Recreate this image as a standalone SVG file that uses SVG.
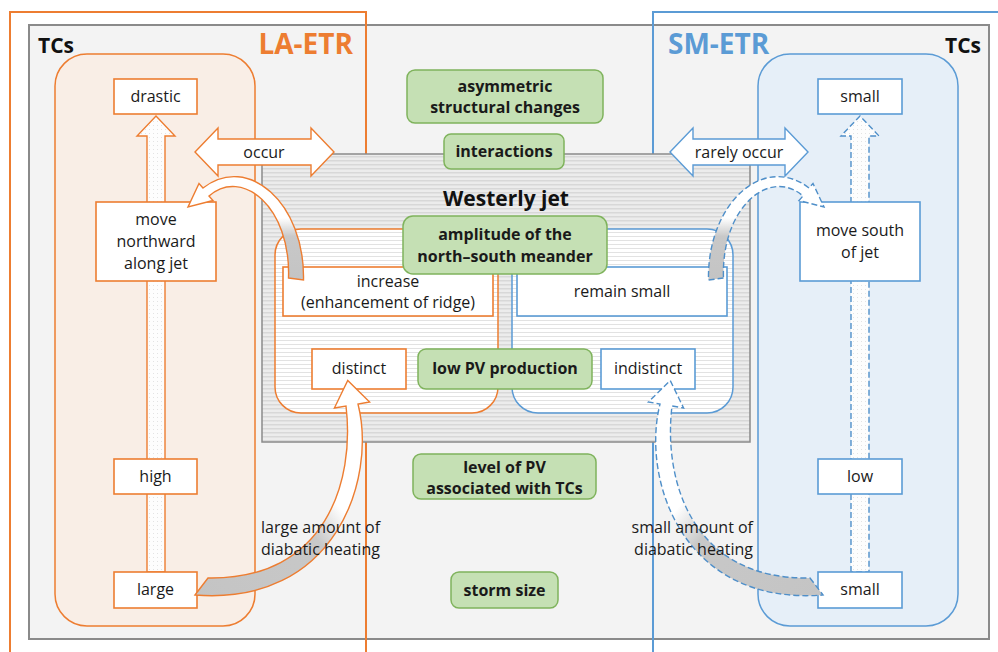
<svg xmlns="http://www.w3.org/2000/svg" width="998" height="652" viewBox="0 0 998 652">
<style>
.t{font-family:"Open Sans","Noto Sans",sans-serif;font-size:16px;fill:#1a1a1a;text-anchor:middle}
.b{font-family:"Open Sans","Noto Sans",sans-serif;font-size:16px;font-weight:bold;fill:#1a1a1a;text-anchor:middle}
.h{font-family:"Open Sans","Noto Sans",sans-serif;font-weight:bold}
.ob{fill:#fff;stroke:#ed7d31;stroke-width:1.6}
.bb{fill:#fff;stroke:#5b9bd5;stroke-width:1.6}
.gb{fill:#c5e0b4;stroke:#7fb35c;stroke-width:1.5}
.oa{stroke:#ed7d31;stroke-width:1.4;stroke-linejoin:miter}
.ba{stroke:#4f8fc9;stroke-width:1.4;stroke-dasharray:6 3;stroke-linejoin:miter}
</style>
<defs>
<pattern id="stripeD" width="4" height="4" patternUnits="userSpaceOnUse">
<rect width="4" height="4" fill="#ececec"/><rect y="0" width="4" height="1.5" fill="#d8d8d8"/>
</pattern>
<pattern id="stripeL" width="4" height="4" patternUnits="userSpaceOnUse">
<rect width="4" height="4" fill="#ffffff"/><rect y="0" width="4" height="1" fill="#e2e2e2"/>
</pattern>
<pattern id="dots" width="4" height="4" patternUnits="userSpaceOnUse">
<rect width="4" height="4" fill="#fdfdfd"/><rect x="1" y="1" width="1" height="1" fill="#e3e3e3"/>
</pattern>
<linearGradient id="g1" x1="0" y1="1" x2="0" y2="0">
<stop offset="0" stop-color="#c4c4c4"/><stop offset="0.42" stop-color="#c8c8c8"/><stop offset="0.6" stop-color="#ffffff"/><stop offset="1" stop-color="#ffffff"/>
</linearGradient>
<linearGradient id="g2" x1="0" y1="1" x2="1" y2="0">
<stop offset="0" stop-color="#c4c4c4"/><stop offset="0.48" stop-color="#c8c8c8"/><stop offset="0.62" stop-color="#ffffff"/><stop offset="1" stop-color="#ffffff"/>
</linearGradient>
</defs>
<rect width="998" height="652" fill="#ffffff"/>

<g id="frame">
<rect x="29" y="25" width="960" height="614" fill="#f3f3f3" stroke="#8a8a8a" stroke-width="2"/>
<path d="M10,660 V12 H366 V660" fill="none" stroke="#ed7d31" stroke-width="2"/>
<path d="M653,660 V12 H1005" fill="none" stroke="#5b9bd5" stroke-width="2"/>
<text class="h" x="38" y="53" font-size="21" fill="#111">TCs</text>
<text class="h" x="353" y="54" font-size="28" fill="#ed7d31" text-anchor="end">LA-ETR</text>
<text class="h" x="668" y="54" font-size="28" fill="#5b9bd5">SM-ETR</text>
<text class="h" x="981" y="53" font-size="21" fill="#111" text-anchor="end">TCs</text>
</g>

<g id="tc-left">
<rect x="55" y="54" width="200" height="572" rx="32" fill="#f9eee6" stroke="#ed7d31" stroke-width="1.5"/>
</g>
<g id="tc-right">
<rect x="758" y="54" width="200" height="572" rx="32" fill="#e6eff8" stroke="#5b9bd5" stroke-width="1.5"/>
</g>

<g id="westerly-jet">
<rect x="262" y="154" width="488" height="288" fill="url(#stripeD)" stroke="#8a8a8a" stroke-width="1.5"/>
<text class="h" x="506" y="206" font-size="21" fill="#111" text-anchor="middle">Westerly jet</text>
</g>
<g id="jet-la">
<rect x="275" y="229" width="223" height="184" rx="26" fill="url(#stripeL)" stroke="#ed7d31" stroke-width="1.5"/>
</g>
<g id="jet-sm">
<rect x="512" y="229" width="221" height="184" rx="26" fill="url(#stripeL)" stroke="#5b9bd5" stroke-width="1.5"/>
</g>

<g id="connectors">
<path class="oa" d="M147,572 L147,136 L137,136 L156,116 L175,136 L165,136 L165,572 Z" fill="url(#dots)"/>
<path class="ba" d="M851,572 L851,136 L841,136 L860,116 L879,136 L869,136 L869,572 Z" fill="url(#dots)"/>
<path class="oa" d="M195,152 L218,128 L218,139 L311,139 L311,128 L334,152 L311,176 L311,165 L218,165 L218,176 Z" fill="#ffffff"/>
<path d="M670,152 L693,128 L693,139 L785,139 L785,128 L808,152 L785,176 L785,165 L693,165 L693,176 Z" fill="#ffffff" stroke="#5b9bd5" stroke-width="1.4"/>
<text class="t" x="264" y="158">occur</text>
<text class="t" x="739" y="158">rarely occur</text>
</g>

<g id="box-drastic"><rect class="ob" x="114" y="79" width="83" height="35"/><text class="t" x="155.5" y="102">drastic</text></g>
<g id="box-northward"><rect class="ob" x="96" y="202" width="120" height="79"/><text class="t" x="156" y="225">move</text><text class="t" x="156" y="247">northward</text><text class="t" x="156" y="269">along jet</text></g>
<g id="box-high"><rect class="ob" x="114" y="459" width="83" height="35"/><text class="t" x="155.5" y="482">high</text></g>
<g id="box-large"><rect class="ob" x="114" y="572" width="83" height="36"/><text class="t" x="155.5" y="595">large</text></g>

<g id="box-small-top"><rect class="bb" x="818" y="79" width="84" height="35"/><text class="t" x="860" y="102">small</text></g>
<g id="box-south"><rect class="bb" x="800" y="202" width="120" height="79"/><text class="t" x="860" y="236">move south</text><text class="t" x="860" y="258">of jet</text></g>
<g id="box-low"><rect class="bb" x="818" y="459" width="84" height="35"/><text class="t" x="860" y="482">low</text></g>
<g id="box-small-bottom"><rect class="bb" x="818" y="572" width="84" height="36"/><text class="t" x="860" y="595">small</text></g>

<g id="box-increase"><rect class="ob" x="283" y="267" width="210" height="49"/><text class="t" x="388" y="287">increase</text><text class="t" x="388" y="308">(enhancement of ridge)</text></g>
<g id="box-remain"><rect class="bb" x="517" y="267" width="210" height="49"/><text class="t" x="622" y="297">remain small</text></g>
<g id="box-distinct"><rect class="ob" x="312" y="349" width="94" height="40"/><text class="t" x="359" y="374">distinct</text></g>
<g id="box-indistinct"><rect class="bb" x="601" y="349" width="94" height="40"/><text class="t" x="648" y="374">indistinct</text></g>

<g id="g-asym"><rect class="gb" x="407" y="70" width="196" height="53" rx="8"/><text class="b" x="505" y="92">asymmetric</text><text class="b" x="505" y="113">structural changes</text></g>
<g id="g-inter"><rect class="gb" x="444" y="134" width="120" height="35" rx="7"/><text class="b" x="504" y="157">interactions</text></g>
<g id="g-ampl"><rect class="gb" x="403" y="216" width="204" height="58" rx="10"/><text class="b" x="505" y="240">amplitude of the</text><text class="b" x="505" y="262">north–south meander</text></g>
<g id="g-lowpv"><rect class="gb" x="418" y="349" width="174" height="40" rx="8"/><text class="b" x="505" y="374">low PV production</text></g>
<g id="g-level"><rect class="gb" x="413" y="454" width="183" height="45" rx="8"/><text class="b" x="504.5" y="473">level of PV</text><text class="b" x="504.5" y="494">associated with TCs</text></g>
<g id="g-storm"><rect class="gb" x="451" y="572" width="107" height="36" rx="8"/><text class="b" x="504.5" y="596">storm size</text></g>

<g id="curved-connectors">
<path class="oa" fill="url(#g1)" d="M288.5,278 L303.5,280 C305,203 248,153 203,188 L199,183.5 L188,207 L213,200.5 L209,196 C242,167 291,207 288.5,278 Z"/>
<path class="ba" fill="url(#g1)" transform="matrix(-1,0,0,1,1012,0)" d="M288.5,278 L303.5,280 C305,203 248,153 203,188 L199,183.5 L188,207 L213,200.5 L209,196 C242,167 291,207 288.5,278 Z"/>
<path class="oa" fill="url(#g2)" d="M208,578 L195,595 C335,606 377,480 358,404 L369.6,402 L347.75,380.5 L334.4,408 L346,406 C355,481 326,580 208,578 Z"/>
<path class="ba" fill="url(#g2)" transform="matrix(-1,0,0,1,1018,0)" d="M208,578 L195,595 C335,606 377,480 358,404 L369.6,402 L347.75,380.5 L334.4,408 L346,406 C355,481 326,580 208,578 Z"/>
</g>

<g id="labels">
<text class="t" x="261" y="533" style="text-anchor:start">large amount of</text>
<text class="t" x="261" y="555" style="text-anchor:start">diabatic heating</text>
<text class="t" x="753" y="533" style="text-anchor:end">small amount of</text>
<text class="t" x="753" y="555" style="text-anchor:end">diabatic heating</text>
</g>
</svg>
